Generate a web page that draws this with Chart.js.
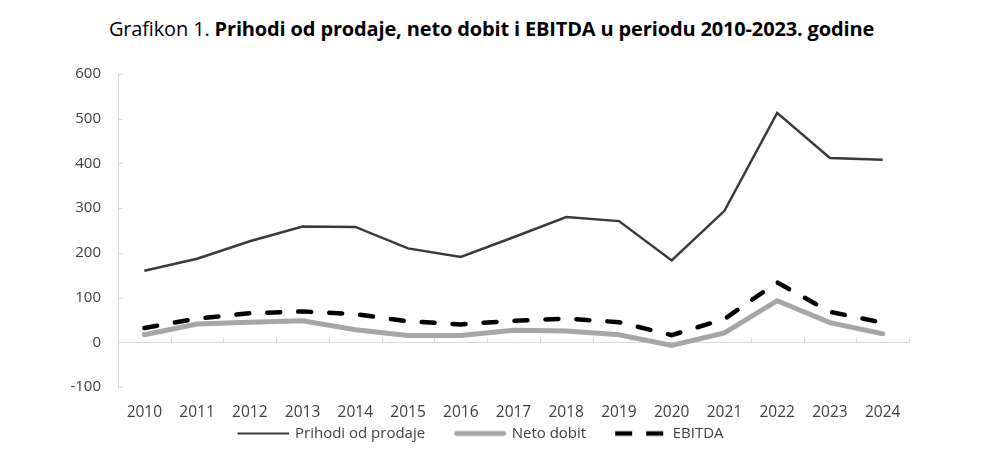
<!DOCTYPE html>
<html>
<head>
<meta charset="utf-8">
<script src="https://cdn.jsdelivr.net/npm/chart.js@4"></script>
<style>
  body { margin: 0; background: #fff; font-family: "Open Sans", sans-serif; }
  #title { height: 48px; line-height: 58px; text-align: center; font-size: 20px; color: #000; letter-spacing: -0.15px; padding-right: 24px; white-space: nowrap; }
  #wrap { position: relative; width: 1007px; height: 420px; }
</style>
</head>
<body>
<div id="title">Grafikon 1. <b>Prihodi od prodaje, neto dobit i EBITDA u periodu 2010-2023. godine</b></div>
<div id="wrap"><canvas id="chart"></canvas></div>
<script>
const years = ["2010", "2011", "2012", "2013", "2014", "2015", "2016", "2017", "2018", "2019", "2020", "2021", "2022", "2023", "2024"];
const prihodi = [160, 187, 226, 259, 258, 210, 191, 235, 280, 271, 183, 294, 513, 412, 408];
const netoDobit = [17, 41, 45, 48, 28, 15, 15, 27, 25, 17, -7, 21, 93, 44, 19];
const ebitda = [32, 53, 65, 69, 63, 47, 40, 48, 53, 45, 16, 52, 134, 68, 44];

const axisColor = "#d9d9d9";
const textColor = "#404040";

// legend sample: a short line drawn on a small canvas, placed at the right of the legend box
const LEG_GAP = 22, LEG_LEN = 52, LEG_BOX = 72;
function legendLine(color, width, dash, cap) {
  const c = document.createElement("canvas");
  c.width = 2 * (LEG_GAP + LEG_LEN - LEG_BOX / 2);
  c.height = 12;
  const g = c.getContext("2d");
  g.strokeStyle = color;
  g.lineWidth = width;
  g.lineCap = cap || "butt";
  g.setLineDash(dash || []);
  g.beginPath();
  const x0 = c.width - LEG_LEN + (cap === "round" ? width / 2 : 0);
  const x1 = c.width - (cap === "round" ? width / 2 : 0);
  g.moveTo(x0, 6);
  g.lineTo(x1, 6);
  g.stroke();
  return c;
}

// axis line, zero line and small tick marks like the original
const axesPlugin = {
  id: "axesPlugin",
  beforeDatasetsDraw(chart) {
    const { ctx, chartArea, scales } = chart;
    const x = scales.x;
    const y = scales.y;
    ctx.save();
    ctx.strokeStyle = axisColor;
    ctx.lineWidth = 1;
    ctx.beginPath();
    ctx.moveTo(chartArea.left + 0.5, chartArea.top);
    ctx.lineTo(chartArea.left + 0.5, chartArea.bottom);
    y.ticks.forEach((t) => {
      const py = Math.round(y.getPixelForValue(t.value)) + 0.5;
      ctx.moveTo(chartArea.left, py);
      ctx.lineTo(chartArea.left + 5, py);
    });
    const zy = Math.round(y.getPixelForValue(0)) + 0.5;
    ctx.moveTo(chartArea.left, zy);
    ctx.lineTo(chartArea.right, zy);
    const step = x.getPixelForValue(1) - x.getPixelForValue(0);
    for (let i = 0; i <= years.length; i++) {
      const px = Math.round(x.getPixelForValue(i) - step / 2) + 0.5;
      ctx.moveTo(px, zy);
      ctx.lineTo(px, zy - 5);
    }
    ctx.stroke();
    ctx.restore();
  },
};

const legendIcons = [
  legendLine("#3a3a3a", 2.2),
  legendLine("#a6a6a6", 5, [], "round"),
  legendLine("#000", 4.5, [17, 14]),
];

new Chart(document.getElementById("chart").getContext("2d"), {
  type: "line",
  data: {
    labels: years,
    datasets: [
      {
        label: "Prihodi od prodaje",
        data: prihodi,
        borderColor: "#3a3a3a",
        backgroundColor: "#3a3a3a",
        borderWidth: 2.5,
        pointRadius: 0,
        tension: 0,
      },
      {
        label: "Neto dobit",
        data: netoDobit,
        borderColor: "#a6a6a6",
        backgroundColor: "#a6a6a6",
        borderWidth: 5,
        borderCapStyle: "round",
        pointRadius: 0,
        tension: 0,
      },
      {
        label: "EBITDA",
        data: ebitda,
        borderColor: "#000",
        backgroundColor: "#000",
        borderWidth: 4.5,
        borderDash: [13, 18],
        borderCapStyle: "round",
        pointRadius: 0,
        tension: 0,
      },
    ],
  },
  options: {
    responsive: true,
    maintainAspectRatio: false,
    animation: false,
    layout: {
      padding: { left: 30, right: 98, top: 0, bottom: 17 },
    },
    plugins: {
      legend: {
        position: "bottom",
        labels: {
          usePointStyle: true,
          pointStyleWidth: LEG_BOX,
          boxHeight: 12,
          color: textColor,
          padding: 7,
          font: { family: "Open Sans", size: 15 },
          generateLabels(chart) {
            const items = Chart.defaults.plugins.legend.labels.generateLabels(chart);
            items.forEach((it, i) => { it.pointStyle = legendIcons[i]; });
            return items;
          },
        },
      },
      tooltip: { enabled: false },
    },
    scales: {
      x: {
        offset: true,
        grid: { display: false, drawTicks: false },
        border: { display: false },
        afterFit(scale) { scale.height = 32; },
        ticks: {
          color: textColor,
          padding: 18,
          maxRotation: 0,
          autoSkip: false,
          font: { family: "Open Sans", size: 15.5, lineHeight: 1 },
        },
      },
      y: {
        min: -100,
        max: 600,
        grid: { display: false, drawTicks: false },
        border: { display: false },
        afterFit(scale) { scale.width = 88; },
        ticks: {
          stepSize: 100,
          color: textColor,
          padding: 17,
          font: { family: "Open Sans", size: 15 },
        },
      },
    },
  },
  plugins: [axesPlugin],
});
</script>
</body>
</html>
